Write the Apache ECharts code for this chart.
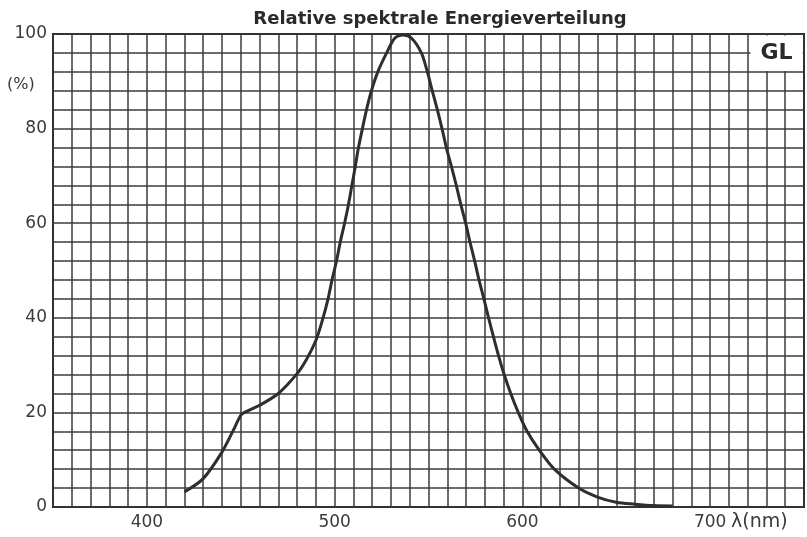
<!DOCTYPE html>
<html>
<head>
<meta charset="utf-8">
<script src="https://cdn.jsdelivr.net/npm/echarts@6/dist/echarts.min.js"></script>
<style>html,body{margin:0;padding:0;background:#fff;}#c{width:807px;height:537px;}</style>
</head>
<body>
<div id="c"></div>
<script>
// Wavelength (nm) and relative spectral energy (%)
const wavelength = [420, 430, 440, 446, 450, 452, 460, 470, 480, 485, 490, 493.5, 496.5, 498.6, 501, 503, 505.3, 507.4, 509.2, 511, 512.7, 514.8, 517, 519.6, 523, 527.7, 532, 536.5, 541, 546.2, 549.4, 552, 554.7, 557.2, 559.5, 562.2, 564.8, 567.2, 569.8, 572.1, 574.6, 576.9, 579.5, 582, 584.6, 587.3, 590.3, 593.8, 597.8, 602.5, 609, 617, 630, 640, 650, 660, 670, 680];
const energy = [3.2, 6, 11.6, 16.2, 19.4, 20, 21.5, 24, 28.2, 31.2, 35.2, 39.5, 44, 48, 52, 56, 60, 64, 68, 72, 76, 80, 84, 88, 92, 96, 99.1, 99.8, 99.1, 96, 92, 88, 84, 80, 76, 72, 68, 64, 60, 56, 52, 48, 44, 40, 36, 32, 28, 24, 20, 16, 12, 8, 4, 2.1, 1, 0.6, 0.3, 0.2];
const xTickLabels = [400, 500, 600, 700];
const yTickLabels = [0, 20, 40, 60, 80, 100];
const titleText = 'Relative spektrale Energieverteilung';
const badgeText = 'GL';
const xName = 'λ(nm)';
const yName = '(%)';

const chart = echarts.init(document.getElementById('c'), null, {renderer: 'canvas'});
const gridColor = '#3b3b3b';
const labelFont = 'DejaVu Sans';
const seriesData = wavelength.map((w, i) => [w, energy[i]]);

chart.setOption({
  animation: false,
  backgroundColor: '#ffffff',
  title: {
    text: titleText, left: 435, top: 5, textAlign: 'center',
    textStyle: {fontFamily: labelFont, fontWeight: 'bold', fontSize: 18, color: '#2a2a2a'}
  },
  grid: {left: 53, right: 2, top: 34, bottom: 30, show: true, borderColor: '#1a1a1a', borderWidth: 2, backgroundColor: 'transparent'},
  xAxis: {
    type: 'value', min: 350, max: 750, interval: 10,
    axisLine: {show: false}, axisTick: {show: false},
    splitLine: {show: true, lineStyle: {color: gridColor, width: 1.5}},
    axisLabel: {
      margin: 7, color: '#3a3a3a', fontFamily: labelFont, fontSize: 17,
      formatter: v => xTickLabels.indexOf(v) >= 0 ? String(v) : ''
    }
  },
  yAxis: {
    type: 'value', min: 0, max: 100, interval: 4,
    axisLine: {show: false}, axisTick: {show: false},
    splitLine: {show: true, lineStyle: {color: gridColor, width: 1.5}},
    axisLabel: {
      margin: 6, color: '#3a3a3a', fontFamily: labelFont, fontSize: 17,
      formatter: v => yTickLabels.indexOf(v) >= 0 ? String(v) : ''
    }
  },
  graphic: [
    {type: 'text', left: 7, top: 77, style: {text: yName, fontFamily: labelFont, fontSize: 16, fill: '#3a3a3a'}},
    {type: 'text', left: 731, top: 513, style: {text: xName, fontFamily: labelFont, fontSize: 19, fill: '#3a3a3a'}}
  ],
  series: [{
    type: 'line',
    data: seriesData,
    showSymbol: false,
    smooth: 0.3,
    lineStyle: {color: '#2e2e2e', width: 3},
    markArea: {
      silent: true,
      itemStyle: {color: '#ffffff', borderWidth: 0},
      label: {show: true, position: 'inside', color: '#2a2a2a', fontFamily: labelFont, fontWeight: 'bold', fontSize: 22},
      data: [[{name: badgeText, xAxis: 721.5, yAxis: 92.2}, {xAxis: 749.3, yAxis: 99.7}]]
    }
  }]
});
</script>
</body>
</html>
